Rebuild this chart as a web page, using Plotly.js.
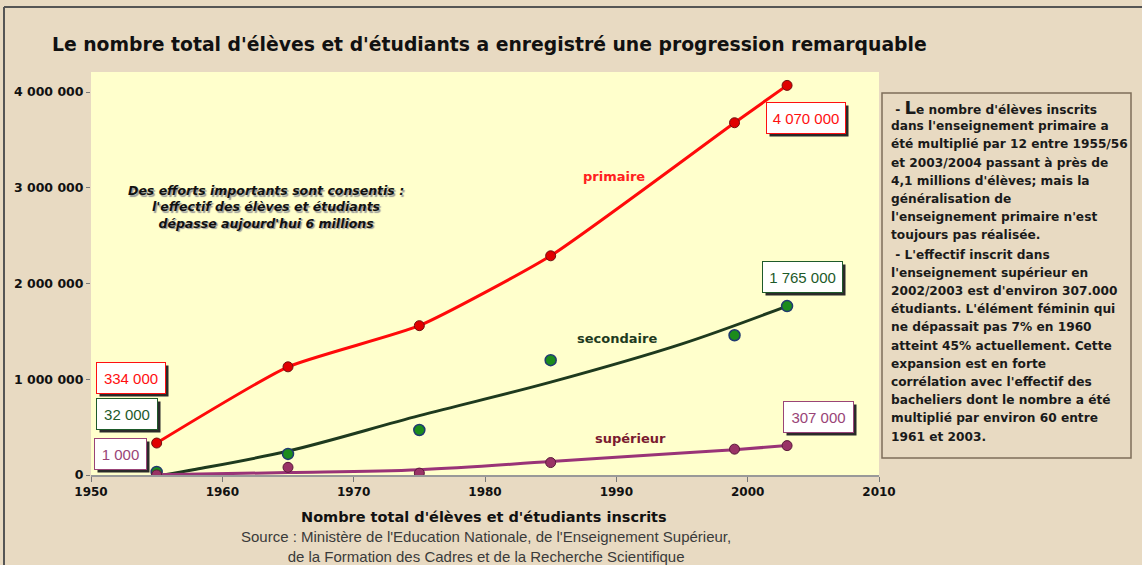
<!DOCTYPE html>
<html>
<head>
<meta charset="utf-8">
<script src="https://cdn.plot.ly/plotly-3.0.1.min.js"></script>
<style>
  body { margin: 0; background: #e8dac2; }
  #chart { width: 1142px; height: 565px; }
</style>
</head>
<body>
<div id="chart"></div>
<script>
// values (students, by school year)
const years = [1955, 1965, 1975, 1985, 1999, 2003];
const primaire = [334000, 1130000, 1560000, 2290000, 3680000, 4070000];
const secondaire = [32000, 220000, 470000, 1200000, 1460000, 1765000];
const superieur = [1000, 80000, 20000, 130000, 270000, 307000];

// fitted trend curves drawn in the original
const secTrendYears = [1955.5, 1958, 1965, 1975, 1985, 1995, 2003];
const secTrend = [0, 60000, 250000, 620000, 970000, 1370000, 1765000];
const supTrendYears = [1955, 1965, 1975, 1985, 1995, 1999, 2003];
const supTrend = [3000, 25000, 55000, 140000, 230000, 265000, 307000];

const xTicks = [1950, 1960, 1970, 1980, 1990, 2000, 2010];
const yTicks = [0, 1000000, 2000000, 3000000, 4000000];
const yTickText = ['0', '1 000 000', '2 000 000', '3 000 000', '4 000 000'];

const sideLines = [
  ' - <span style="font-size:18px">L</span>e nombre d\'élèves inscrits',
  'dans l\'enseignement primaire a',
  'été multiplié par 12 entre 1955/56',
  'et 2003/2004 passant à près de',
  '4,1 millions d\'élèves; mais la',
  'généralisation de',
  'l\'enseignement primaire n\'est',
  'toujours pas réalisée.',
  ' - L\'effectif inscrit dans',
  'l\'enseignement supérieur en',
  '2002/2003 est d\'environ 307.000',
  'étudiants. L\'élément féminin qui',
  'ne dépassait pas 7% en 1960',
  'atteint 45% actuellement. Cette',
  'expansion est en forte',
  'corrélation avec l\'effectif des',
  'bacheliers dont le nombre a été',
  'multiplié par environ 60 entre',
  '1961 et 2003.'
];

// pixel -> paper helpers (plot box is 91..879 x 72..475)
const L = 91, R = 879, T = 72, B = 475;
function px(x) { return (x - L) / (R - L); }
function py(y) { return (B - y) / (B - T); }

const VERD = 'DejaVu Sans, Verdana, sans-serif';
const ARIAL = 'Arial, Liberation Sans, sans-serif';
const RED = '#ff0a0a', GREEN = '#1e3a1e', PURPLE = '#993377';

const data = [
  {
    x: years, y: primaire, mode: 'lines+markers', type: 'scatter',
    line: { color: RED, width: 3, shape: 'spline', smoothing: 0.5 },
    marker: { size: 10, color: '#e00000', line: { color: '#701010', width: 1 } }
  },
  {
    x: secTrendYears, y: secTrend, mode: 'lines', type: 'scatter',
    line: { color: GREEN, width: 3, shape: 'spline' }
  },
  {
    x: years, y: secondaire, mode: 'markers', type: 'scatter',
    marker: { size: 11, color: '#1c8c1c', line: { color: '#203a70', width: 1.5 } }
  },
  {
    x: supTrendYears, y: supTrend, mode: 'lines', type: 'scatter',
    line: { color: PURPLE, width: 3, shape: 'spline' }
  },
  {
    x: years, y: superieur, mode: 'markers', type: 'scatter',
    marker: { size: 10, color: '#993366', line: { color: '#5a1a3a', width: 1 } }
  }
];

const annotations = [];

function note(o) {
  annotations.push(Object.assign({ showarrow: false, xanchor: 'center', yanchor: 'middle' }, o));
}

// value boxes with a drop shadow (shadow is a blank box)
function valueBox(text, xp, yp, w, color) {
  note({ x: px(xp), y: py(yp), xref: 'paper', yref: 'paper', text: ' ', width: w, height: 24,
    bgcolor: '#2a2a2a', borderpad: 3, xshift: 3, yshift: -3 });
  note({ x: px(xp), y: py(yp), xref: 'paper', yref: 'paper', text: text, width: w, height: 24,
    font: { family: ARIAL, size: 15, color: color }, bgcolor: '#ffffff',
    bordercolor: color, borderwidth: 1, borderpad: 3 });
}
valueBox('334 000', 131, 378, 62, '#ff1010');
valueBox('32 000', 127, 414, 54, '#1e5a2a');
valueBox('1 000', 120, 454, 45, '#994477');
valueBox('4 070 000', 806, 118, 72, '#ff1010');
valueBox('1 765 000', 802, 277, 73, '#1e5a2a');
valueBox('307 000', 818, 417, 63, '#994477');

// series names
function seriesLabel(text, xp, yp, color) {
  note({ x: px(xp), y: py(yp), xref: 'paper', yref: 'paper', text: '<b>' + text + '</b>',
    font: { family: VERD, size: 13, color: color } });
}
seriesLabel('primaire', 614, 176, '#ff2020');
seriesLabel('secondaire', 617, 338, '#1e3a1e');
seriesLabel('supérieur', 630, 438, '#7a1a30');

// italic comment, shadowed like the original
const comment = '<b><i>Des efforts importants sont consentis :<br>l\'effectif des élèves et étudiants<br>dépasse aujourd\'hui 6 millions</i></b>';
note({ x: px(266), y: py(207), xref: 'paper', yref: 'paper', text: comment, align: 'center',
  font: { family: VERD, size: 12.5, color: '#111', shadow: '1.5px 1.5px 1px #999' } });

// side text panel
let yy = 108;
sideLines.forEach(function(line, i) {
  if (i === 8) yy += 1;
  note({ x: px(889), y: py(yy), xref: 'paper', yref: 'paper', text: '<b>' + line + '</b>',
    xanchor: 'left', font: { family: VERD, size: 12.2, color: '#1a1a1a' } });
  yy += 18.2;
});

// title, axis title, source
note({ x: px(50), y: py(45), xref: 'paper', yref: 'paper', xanchor: 'left',
  text: '<b>Le nombre total d\'élèves et d\'étudiants a enregistré une progression remarquable</b>',
  font: { family: VERD, size: 18.8, color: '#111' } });
note({ x: px(484), y: py(517), xref: 'paper', yref: 'paper',
  text: '<b>Nombre total d\'élèves et d\'étudiants inscrits</b>',
  font: { family: VERD, size: 14.5, color: '#111' } });
note({ x: px(486), y: py(546), xref: 'paper', yref: 'paper', align: 'center',
  text: 'Source : Ministère de l\'Education Nationale, de l\'Enseignement Supérieur,<br>de la Formation des Cadres et de la Recherche Scientifique',
  font: { family: ARIAL, size: 15, color: '#3a3a3a' } });

const shapes = [
  // side panel frame
  { type: 'rect', xref: 'paper', yref: 'paper', x0: px(882), x1: px(1131), y0: py(458), y1: py(93),
    line: { color: '#7d6e5a', width: 1.5 }, fillcolor: 'rgba(0,0,0,0)' },
  // outer frame
  { type: 'line', xref: 'paper', yref: 'paper', x0: px(4), x1: px(1142), y0: py(7), y1: py(7),
    line: { color: '#555', width: 2 } },
  { type: 'line', xref: 'paper', yref: 'paper', x0: px(4), x1: px(4), y0: py(7), y1: py(565),
    line: { color: '#555', width: 2 } }
];

const layout = {
  width: 1142, height: 565,
  margin: { l: L, r: 1142 - R, t: T, b: 565 - B },
  paper_bgcolor: '#e8dac2',
  plot_bgcolor: '#ffffcc',
  showlegend: false,
  font: { family: VERD, color: '#111' },
  xaxis: {
    range: [1950, 2010], tickvals: xTicks, ticks: 'outside', ticklen: 5, tickcolor: '#777',
    showgrid: false, zeroline: false, showline: true, linecolor: '#999', linewidth: 2,
    tickfont: { family: VERD, size: 12, color: '#111', weight: 'bold' }
  },
  yaxis: {
    range: [0, 4210000], tickvals: yTicks, ticktext: yTickText, ticks: 'outside', ticklen: 4,
    tickcolor: '#777', showgrid: false, zeroline: false, showline: false,
    tickfont: { family: VERD, size: 12.5, color: '#111', weight: 'bold' }
  },
  annotations: annotations,
  shapes: shapes
};

Plotly.newPlot('chart', data, layout, { displayModeBar: false, staticPlot: true });
</script>
</body>
</html>
